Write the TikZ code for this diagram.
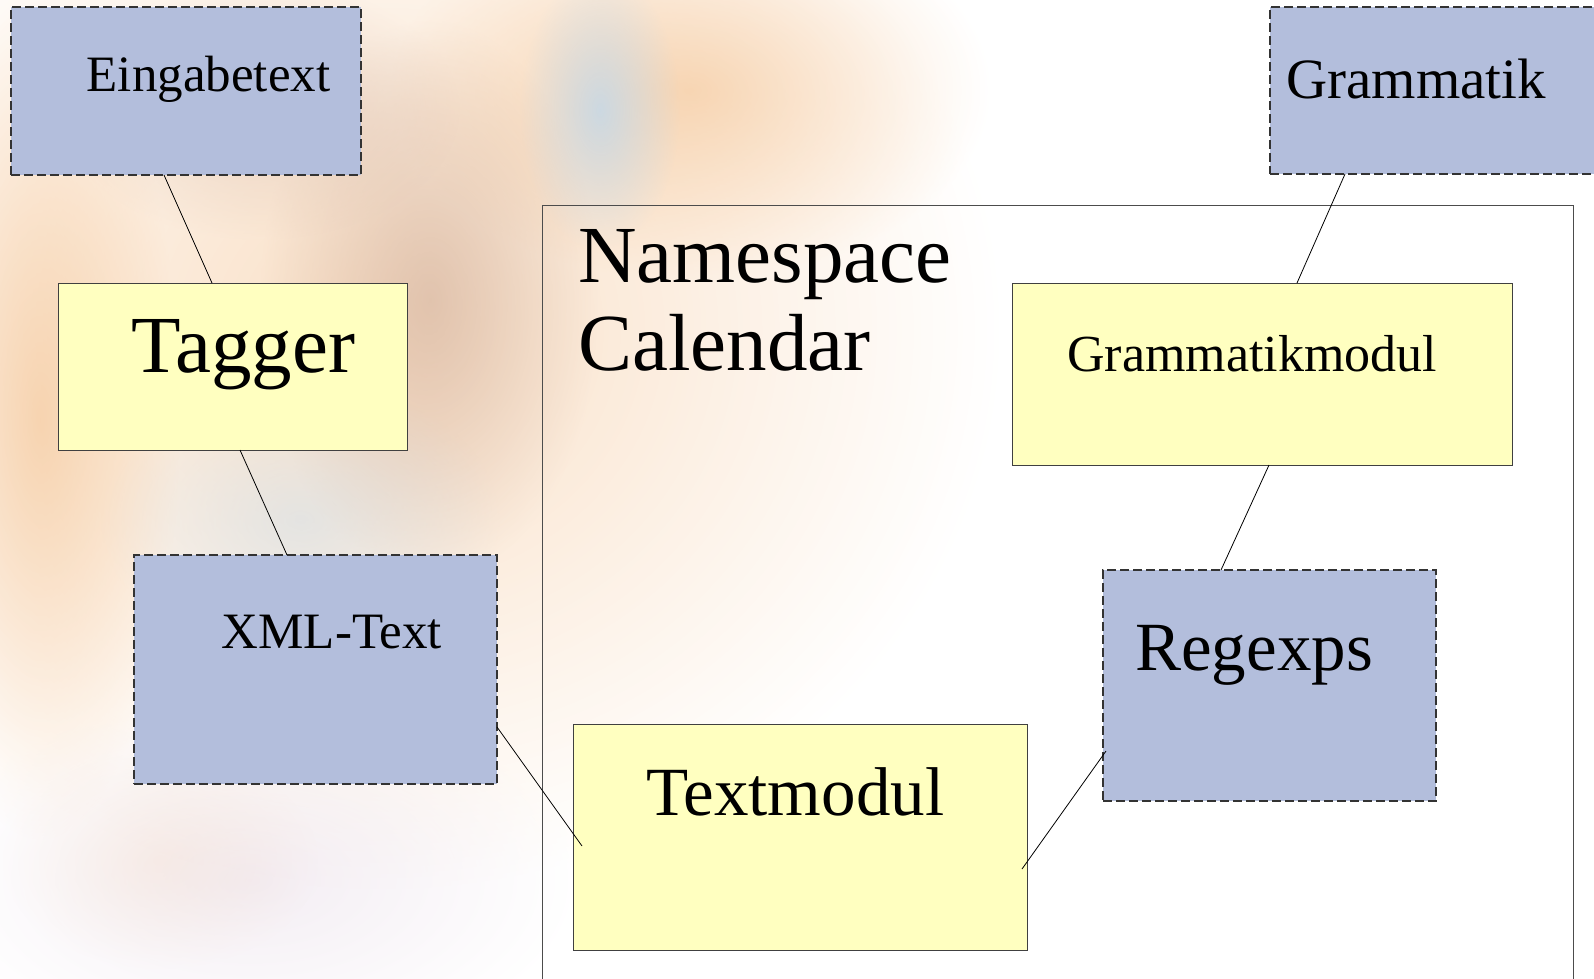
\documentclass[tikz,border=0pt]{standalone}
\usepackage{fontspec}
\setmainfont{Liberation Serif}
\usetikzlibrary{fadings}
\tikzfading[name=softblob, inner color=transparent!0, outer color=transparent!100]
\definecolor{boxblue}{RGB}{179,190,220}
\definecolor{boxyellow}{RGB}{255,255,192}
\definecolor{bgorange}{RGB}{240,175,110}
\definecolor{bgtan}{RGB}{205,170,150}
\definecolor{bgblue}{RGB}{185,215,240}
\definecolor{bgpale}{RGB}{235,225,235}
\tikzset{
  bluebox/.style={draw=black!80, fill=boxblue, line width=1.1pt, dash pattern=on 9pt off 4pt, inner sep=0pt, outer sep=0pt},
  yellowbox/.style={draw=black!75, fill=boxyellow, line width=0.9pt, inner sep=0pt, outer sep=0pt},
  lbl/.style={anchor=base west, inner sep=0pt, text=black},
  conn/.style={draw=black, line width=0.8pt},
  frameline/.style={draw=black!70, line width=0.9pt},
  blob/.style={path fading=softblob}
}
\newcommand{\fs}[1]{\fontsize{#1}{#1}\selectfont}
\begin{document}
\begin{tikzpicture}[x=1pt,y=-1pt]
\useasboundingbox (0,0) rectangle (1594,978);
\clip (0,0) rectangle (1594,978);
% blurred background
\fill[bgorange, opacity=0.40, blob] (380,330) ellipse (620pt and 560pt);
\fill[bgpale, opacity=0.6, blob] (250,880) ellipse (330pt and 180pt);
\fill[bgorange, opacity=0.45, blob] (40,420) ellipse (140pt and 420pt);
\fill[bgorange, opacity=0.45, blob] (690,90) ellipse (300pt and 190pt);
\fill[bgtan, opacity=0.55, blob] (430,300) ellipse (170pt and 280pt);
\fill[bgtan, opacity=0.35, blob] (260,110) ellipse (200pt and 130pt);
\fill[bgblue, opacity=0.7, blob] (600,110) ellipse (80pt and 140pt);
\fill[bgblue, opacity=0.35, blob] (300,520) ellipse (200pt and 140pt);
\fill[bgorange, opacity=0.12, blob] (160,860) ellipse (160pt and 110pt);

% namespace frame
\draw[frameline] (542,1000) -- (542,205) -- (1573,205) -- (1573,1000);
\node[lbl, font=\fs{81}] (ns1) at (578,282) {Namespace};
\node[lbl, font=\fs{81}] (ns2) at (578,370) {Calendar};

% boxes
\node[bluebox, minimum width=350pt, minimum height=168pt] (eing) at (186,91) {};
\node[yellowbox, minimum width=349pt, minimum height=167pt] (tagger) at (232.5,366.5) {};
\node[bluebox, minimum width=363pt, minimum height=229pt] (xml) at (315.5,669.5) {};
\node[bluebox, minimum width=370pt, minimum height=167pt] (gram) at (1455,90.5) {};
\node[yellowbox, minimum width=500pt, minimum height=182pt] (gmodul) at (1262,374) {};
\node[bluebox, minimum width=333pt, minimum height=231pt] (regex) at (1269.5,685.5) {};
\node[yellowbox, minimum width=454pt, minimum height=226pt] (textm) at (800,837) {};

% labels
\node[lbl, font=\fs{51}] (teing) at (86.5,91.5) {Eingabetext};
\node[lbl, font=\fs{81}] (ttagger) at (131,372) {Tagger};
\node[lbl, font=\fs{51}] (txml) at (221.5,648) {XML-Text};
\node[lbl, font=\fs{57}] (tgram) at (1286,98) {Grammatik};
\node[lbl, font=\fs{52}] (tgmodul) at (1067,371) {Grammatikmodul};
\node[lbl, font=\fs{69}] (tregex) at (1135,670) {Regexps};
\node[lbl, font=\fs{69}] (ttextm) at (646,815) {Textmodul};

% connectors
\draw[conn] ([xshift=153pt]eing.south west) -- ([xshift=154pt]tagger.north west);
\draw[conn] ([xshift=182pt]tagger.south west) -- ([xshift=153pt]xml.north west);
\draw[conn] ([yshift=-172pt]xml.north east) -- ([xshift=9pt,yshift=-122pt]textm.north west);
\draw[conn] ([xshift=75pt]gram.south west) -- ([xshift=285pt]gmodul.north west);
\draw[conn] ([xshift=257pt]gmodul.south west) -- ([xshift=118pt]regex.north west);
\draw[conn] ([xshift=3pt,yshift=-181pt]regex.north west) -- ([xshift=-5pt,yshift=-145pt]textm.north east);
\end{tikzpicture}
\end{document}
